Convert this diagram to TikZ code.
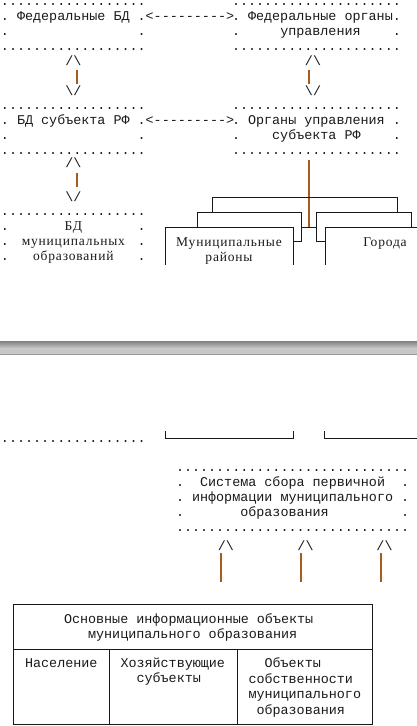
\documentclass[tikz,border=0pt]{standalone}
\usepackage{fontspec}
\setmainfont{Liberation Serif}
\newfontfamily\monofnt[Ligatures=TeXOff]{Liberation Mono}
\newfontfamily\seriffnt[LetterSpace=6]{Liberation Serif}
\usetikzlibrary{calc}
\newdimen\rowskip
\rowskip=15pt
\newcommand\mrows[1]{\vtop{\baselineskip=\rowskip\lineskiplimit=-100pt\lineskip=0pt\halign{##\hfil\cr#1\crcr}}}
\newcommand\crows[1]{\vtop{\baselineskip=\rowskip\lineskiplimit=-100pt\lineskip=0pt\halign{\hfil##\hfil\cr#1\crcr}}}
\newcommand\srow[1]{\hbox to 144.72pt{.\hfil{\seriffnt\fontsize{13.5}{15}\selectfont #1}\hfil.}}
\definecolor{conncol}{RGB}{165,90,30}
\definecolor{ink}{RGB}{25,25,25}
\tikzset{
  asc/.style={font=\monofnt\fontsize{13.4}{15}\selectfont\frenchspacing, text=ink, anchor=base west, inner sep=0pt, outer sep=0pt},
  srf/.style={font=\seriffnt\fontsize{13.5}{15}\selectfont, text=ink, anchor=base, inner sep=0pt, outer sep=0pt},
  card/.style={draw=ink, line width=1pt},
  vbar/.style={draw=conncol, line width=2pt},
  tline/.style={draw=ink, line width=1pt}
}
\begin{document}
\begin{tikzpicture}[x=1pt,y=-1pt]
\useasboundingbox (0,0) rectangle (417,726);
\clip (0,0) rectangle (417,726);

% ---- level 1
\node[asc] (fedbd) at (1,5) {\mrows{..................\cr
.~Федеральные~БД~.\cr
.~~~~~~~~~~~~~~~~.\cr
..................}};
\node[asc] (arr1) at (145.7,20) {<--------->};
\node[asc] (fedorg) at (232,5) {\mrows{.....................\cr
.~Федеральные~органы.\cr
.~~~~~управления~~~~.\cr
.....................}};

% vertical double arrows level 1-2
\node[asc, anchor=base] (u1) at (73.5,65) {/\textbackslash};
\node[asc, anchor=base] (d1) at (73.5,95) {\textbackslash/};
\draw[vbar] ($(u1.base)+(3.5,4.5)$) -- ($(d1.base)+(3.5,-11.5)$);
\node[asc, anchor=base] (u2) at (313,65) {/\textbackslash};
\node[asc, anchor=base] (d2) at (313,95) {\textbackslash/};
\draw[vbar] ($(u2.base)+(-4,4.5)$) -- ($(d2.base)+(-4,-11.5)$);

% ---- level 2
\node[asc] (subbd) at (1,109.5) {\mrows{..................\cr
.~БД~субъекта~РФ~.\cr
.~~~~~~~~~~~~~~~~.\cr
..................}};
\node[asc] (arr2) at (145.7,124.5) {<--------->};
\node[asc] (suborg) at (232,109.5) {\mrows{.....................\cr
.~Органы~управления~.\cr
.~~~~субъекта~РФ~~~~.\cr
.....................}};

\node[asc, anchor=base] (u3) at (73.5,167) {/\textbackslash};
\node[asc, anchor=base] (d3) at (73.5,201.5) {\textbackslash/};
\draw[vbar] ($(u3.base)+(3.5,6)$) -- ($(d3.base)+(3.5,-14.5)$);

% ---- level 3 left
\node[asc] (mobd) at (1,215.3) {\mrows{..................\cr
\srow{БД}\cr
\srow{муниципальных}\cr
\srow{образований}}};

% ---- cards
\coordinate (jn) at (309,227.5);
\draw[vbar] ($(suborg.south -| jn)+(0,5.5)$) -- (jn);
\draw[card] (212.5,212.5) |- (397.5,197.5) -- (397.5,212.5);
\draw[card] (197.5,227.5) |- (301.5,212.5) -- (301.5,241.5) -- (293.5,241.5);
\draw[card] (325.5,241.5) -- (316.5,241.5) |- (411.5,212.5) -- (411.5,227.5);
\draw[card] (301.5,227.5) -- (316.5,227.5);
\draw[card] (165.5,265) |- (293.5,227.5) -- (293.5,265);
\draw[card] (325.5,265) |- (430,227.5);
\node[srf] (mr) at (229,246) {\crows{Муниципальные\cr районы}};
\node[srf] (gor) at (385,246.5) {Города};

% ---- gray band
\shade[top color=black!50, bottom color=black!22] (0,341) rectangle (417,348);
\fill[black!22] (0,348) rectangle (417,355);
\draw[black!40, line width=0.8pt] (0,354.6) -- (417,354.6);

% ---- lower part
\node[asc] (lowdots) at (1,442) {..................};
\draw[card] (165.5,431) |- (293.5,438.5) -- (293.5,431);
\draw[card] (324.5,431) |- (430,438.5);

\node[asc] (sys) at (176,471.5) {\mrows{.............................\cr
.~~Система~сбора~первичной~~.\cr
.~информации~муниципального~.\cr
.~~~~~~~образования~~~~~~~~~.\cr
.............................}};

\node[asc, anchor=base] (s1) at (225.8,550) {/\textbackslash};
\node[asc, anchor=base] (s2) at (305.5,550) {/\textbackslash};
\node[asc, anchor=base] (s3) at (384.5,550) {/\textbackslash};
\draw[vbar] ($(s1.base)+(-4.8,3)$) -- ++(0,29);
\draw[vbar] ($(s2.base)+(-4.5,3)$) -- ++(0,29);
\draw[vbar] ($(s3.base)+(-3.5,3)$) -- ++(0,29);

% ---- table
\draw[tline] (13.5,604.5) rectangle (372.5,724.5);
\draw[tline] (13.5,649.5) -- (372.5,649.5);
\draw[tline] (109.5,649.5) -- (109.5,724.5);
\draw[tline] (237.5,649.5) -- (237.5,724.5);
\node[asc] (title) at (64,623) {\mrows{Основные информационные объекты\cr
~~~муниципального образования}};
\node[asc, anchor=base] (pop) at (61.3,667.5) {Население};
\node[asc] (firms) at (120.5,667.5) {\mrows{Хозяйствующие\cr ~~субъекты}};
\node[asc] (prop) at (248.5,667.5) {\rowskip=15.5pt\relax\mrows{~~Объекты\cr
собственности\cr
муниципального\cr
~образования}};
\end{tikzpicture}
\end{document}
